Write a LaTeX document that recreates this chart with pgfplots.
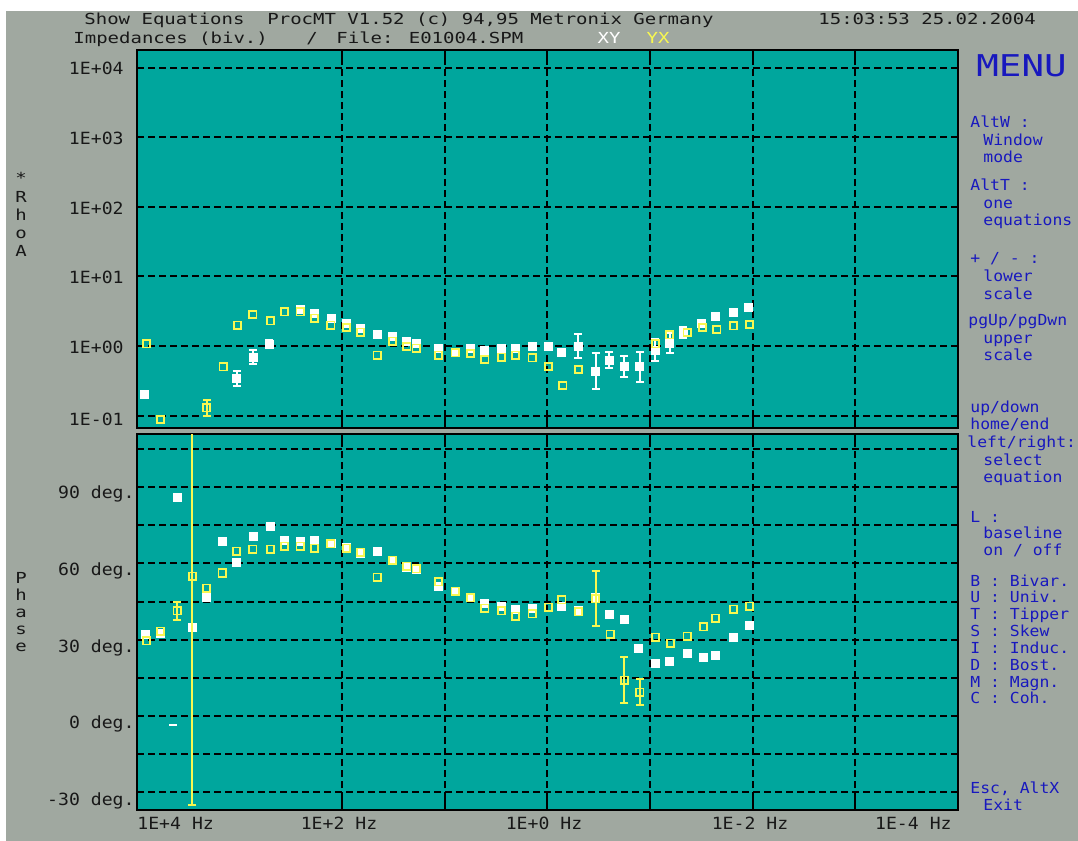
\documentclass[border=0pt]{standalone}
\usepackage{pgfplots}
\usepackage{pgfplotstable}
\pgfplotsset{compat=1.18}
\usepackage{fontspec}
\newfontfamily\hdr[FakeStretch=1.25]{DejaVu Sans Mono}
\newfontfamily\mnu[FakeStretch=1.08]{DejaVu Sans Mono}
\newfontfamily\axf[FakeStretch=1.08]{DejaVu Sans Mono}
\newfontfamily\bigf[FakeStretch=1.25]{DejaVu Sans Mono}
\definecolor{scrgray}{RGB}{160,168,160}
\definecolor{scrteal}{RGB}{0,166,157}
\definecolor{scryel}{RGB}{248,248,80}
\definecolor{scrblue}{RGB}{24,24,190}
\definecolor{scrtxt}{RGB}{24,24,24}

% log10(f)  log10(rho)   -- XY (white)
\pgfplotstableread{
f v
3.93 -0.69
3.20 -1.22
3.03 -0.47
2.87 -0.16
2.71 0.03
2.41 0.53
2.27 0.47
2.11 0.40
1.96 0.33
1.82 0.26
1.66 0.16
1.51 0.14
1.37 0.07
1.28 0.04
1.06 -0.04
0.90 -0.09
0.75 -0.04
0.61 -0.07
0.45 -0.04
0.31 -0.03
0.15 0.00
-0.01 0.00
-0.14 -0.09
-0.30 0.00
-0.47 -0.36
-0.60 -0.20
-0.75 -0.29
-0.90 -0.30
-1.05 -0.06
-1.19 0.04
-1.32 0.20
-1.50 0.33
-1.64 0.43
-1.81 0.49
-1.96 0.56
}\rhoxy
\pgfplotstableread{
f v e
3.03 -0.47 0.11
2.87 -0.16 0.10
2.71 0.03 0.06
-0.30 0.00 0.17
-0.47 -0.36 0.26
-0.60 -0.20 0.11
-0.75 -0.29 0.15
-0.90 -0.30 0.21
-1.05 -0.06 0.16
-1.19 0.04 0.14
-1.32 0.20 0.08
}\rhoxyerr
% YX (yellow)
\pgfplotstableread{
f v
3.91 0.03
3.77 -1.06
3.32 -0.89
3.16 -0.30
3.02 0.30
2.87 0.45
2.70 0.36
2.56 0.49
2.41 0.49
2.27 0.40
2.11 0.30
1.96 0.27
1.82 0.20
1.66 -0.13
1.51 0.07
1.37 -0.01
1.28 -0.03
1.06 -0.13
0.90 -0.10
0.75 -0.11
0.61 -0.19
0.45 -0.16
0.31 -0.13
0.15 -0.17
-0.01 -0.29
-0.15 -0.57
-0.30 -0.34
-0.47 -1.19
-1.05 0.03
-1.19 0.16
-1.36 0.19
-1.51 0.27
-1.65 0.24
-1.81 0.29
-1.97 0.31
}\rhoyx
\pgfplotstableread{
f v e
3.32 -0.89 0.12
}\rhoyxerr
% phase XY (white)
\pgfplotstableread{
f v
3.92 32.2
3.77 32.6
3.61 86.0
3.46 35.0
3.32 46.8
3.17 68.8
3.03 60.5
2.87 70.7
2.70 74.7
2.56 69.2
2.41 68.8
2.27 69.2
2.11 68.0
1.96 66.4
1.82 64.0
1.66 64.8
1.51 61.3
1.37 58.5
1.28 57.8
1.06 51.1
0.90 49.1
0.75 46.8
0.61 44.4
0.45 43.2
0.31 42.0
0.15 42.4
-0.14 43.2
-0.30 41.7
-0.47 46.8
-0.60 40.1
-0.75 38.1
-0.89 26.7
-1.05 20.8
-1.19 21.6
-1.36 24.8
-1.52 23.2
-1.64 24.0
-1.81 31.0
-1.97 35.8
}\phixy
% phase YX (yellow)
\pgfplotstableread{
f v
3.91 29.5
3.77 33.4
3.61 41.3
3.46 55.0
3.32 50.3
3.17 56.2
3.03 64.8
2.87 65.6
2.70 65.6
2.56 66.8
2.41 66.8
2.27 66.0
2.11 67.6
1.96 66.0
1.82 64.4
1.66 54.6
1.51 61.3
1.37 58.9
1.28 57.8
1.06 52.7
0.90 49.1
0.75 46.4
0.61 42.4
0.45 41.3
0.31 39.3
0.15 40.1
-0.01 42.8
-0.14 45.6
-0.30 40.9
-0.47 46.0
-0.61 32.2
-0.75 14.1
-0.90 9.4
-1.05 31.0
-1.20 28.7
-1.36 31.4
-1.52 35.0
-1.64 38.5
-1.81 42.0
-1.97 43.2
}\phiyx
\pgfplotstableread{
f v e
3.61 41.3 3.7
3.46 55.0 90
-0.47 46.0 10.8
-0.75 14.1 9
-0.90 9.4 5
}\phiyxerr

\tikzset{
  hd/.style={font={\hdr\fontsize{7.6pt}{9pt}\selectfont}, text=scrtxt, inner sep=0pt},
  mn/.style={font={\mnu\fontsize{7.6pt}{9pt}\selectfont}, text=scrblue, inner sep=0pt, anchor=base west},
  ax/.style={font={\axf\fontsize{8.4pt}{10pt}\selectfont}, text=scrtxt, inner sep=0pt},
}
\pgfplotsset{
  scr/.style={
    scale only axis, width=410.5pt, anchor=north west,
    xmin=-4, xmax=4, x dir=reverse,
    xtick={-3,-2,-1,0,1,2}, xticklabels={}, yticklabels={},
    grid=major,
    major grid style={black, line width=1pt, dash pattern=on 3.6pt off 1.9pt},
    axis background/.style={fill=scrteal},
    axis line style={black, line width=1pt},
    tick align=inside, tick pos=both,
    xtick style={black, line width=1pt, solid},
    ytick style={draw=none},
    major tick length=5.5pt,
    clip marker paths=true,
  },
  wmk/.style={only marks, mark=square*, mark size=2pt, white, mark options={white, fill=white}},
  ymk/.style={only marks, mark=square, mark size=1.8pt, scryel, mark options={scryel, line width=0.9pt}},
  werr/.style={error bars/.cd, y dir=both, y explicit,
    error bar style={white, line width=1pt},
    error mark options={rotate=90, white, mark size=2pt, line width=1pt}},
  yerr/.style={error bars/.cd, y dir=both, y explicit,
    error bar style={scryel, line width=1pt},
    error mark options={rotate=90, scryel, mark size=2pt, line width=1pt}},
}

\begin{document}
\begin{tikzpicture}[x=0.5pt,y=-0.5pt]
\useasboundingbox (0,0) rectangle (1078,841);
\fill[white] (0,0) rectangle (1078,841);
\fill[scrgray] (6,11) rectangle (1078,841);

% upper panel: apparent resistivity
\begin{axis}[scr, at={(68.5pt,-25pt)}, height=189pt,
  ymin=-1.178, ymax=4.253, ytick={-1,0,1,2,3,4}]
\addplot[wmk] table[x=f,y=v] {\rhoxy};
\addplot[wmk, werr] table[x=f,y=v,y error=e] {\rhoxyerr};
\addplot[ymk] table[x=f,y=v] {\rhoyx};
\addplot[ymk, yerr] table[x=f,y=v,y error=e] {\rhoyxerr};
\end{axis}

% lower panel: phase
\begin{axis}[scr, at={(68.5pt,-217pt)}, height=188pt,
  ymin=-36.9, ymax=110.8, ytick={-30,-15,...,105}]
\addplot[wmk] table[x=f,y=v] {\phixy};
\addplot[only marks, mark=-, mark size=1.8pt, white, mark options={white, line width=1pt}] coordinates {(3.65,-3.5)};
\addplot[ymk] table[x=f,y=v] {\phiyx};
\addplot[ymk, yerr] table[x=f,y=v,y error=e] {\phiyxerr};
\end{axis}

% header
\node[hd, anchor=base west] at (84,24.5) {Show Equations~ ProcMT V1.52 (c) 94,95 Metronix Germany};
\node[hd, anchor=base west] at (818,24.5) {15:03:53 25.02.2004};
\node[hd, anchor=base west] at (73,43.5) {Impedances (biv.)};
\node[hd, anchor=base] at (312,43.5) {/};
\node[hd, anchor=base west] at (336,43.5) {File: E01004.SPM};
\node[hd, anchor=base, text=white] at (609,43.5) {XY};
\node[hd, anchor=base, text=scryel] at (658,43.5) {YX};

% vertical axis names
\node[hd, anchor=base] at (21,183) {*};
\node[hd, anchor=base] at (21,202) {R};
\node[hd, anchor=base] at (21,220.5) {h};
\node[hd, anchor=base] at (21,238.5) {o};
\node[hd, anchor=base] at (21,256) {A};
\node[hd, anchor=base] at (21,583.5) {P};
\node[hd, anchor=base] at (21,600.5) {h};
\node[hd, anchor=base] at (21,617.5) {a};
\node[hd, anchor=base] at (21,634.5) {s};
\node[hd, anchor=base] at (21,651.5) {e};

% upper tick labels
\node[ax, anchor=base east] at (124,74.5) {1E+04};
\node[ax, anchor=base east] at (124,144.5) {1E+03};
\node[ax, anchor=base east] at (124,214) {1E+02};
\node[ax, anchor=base east] at (124,283.5) {1E+01};
\node[ax, anchor=base east] at (124,353) {1E+00};
\node[ax, anchor=base east] at (124,425) {1E-01};
% lower tick labels
\node[ax, anchor=base east] at (135,498.5) {90 deg.};
\node[ax, anchor=base east] at (135,575.5) {60 deg.};
\node[ax, anchor=base east] at (135,652) {30 deg.};
\node[ax, anchor=base east] at (135,728.5) {0 deg.};
\node[ax, anchor=base east] at (135,805.5) {-30 deg.};
% frequency labels
\node[ax, anchor=base west] at (137,829) {1E+4 Hz};
\node[ax, anchor=base] at (339,829) {1E+2 Hz};
\node[ax, anchor=base] at (544,829) {1E+0 Hz};
\node[ax, anchor=base] at (750,829) {1E-2 Hz};
\node[ax, anchor=base east] at (952,829) {1E-4 Hz};

% menu
\node[font={\bigf\fontsize{15pt}{17pt}\selectfont}, text=scrblue, inner sep=0pt, anchor=base west] at (976,76) {MENU};
\node[mn] at (970,127.5) {AltW :};
\node[mn] at (983,145.5) {Window};
\node[mn] at (983,162.5) {mode};
\node[mn] at (970,190.5) {AltT :};
\node[mn] at (983,208.5) {one};
\node[mn] at (983,225.5) {equations};
\node[mn] at (970,263.5) {+ / - :};
\node[mn] at (983,281.5) {lower};
\node[mn] at (983,299.5) {scale};
\node[mn] at (968,325.5) {pgUp/pgDwn};
\node[mn] at (983,343.5) {upper};
\node[mn] at (983,360.5) {scale};
\node[mn] at (970,412.5) {up/down};
\node[mn] at (970,429) {home/end};
\node[mn] at (967,447.5) {left/right:};
\node[mn] at (983,465.5) {select};
\node[mn] at (983,482.5) {equation};
\node[mn] at (970,522.5) {L :};
\node[mn] at (983,538.5) {baseline};
\node[mn] at (983,555.5) {on / off};
\node[mn] at (970,586.5) {B : Bivar.};
\node[mn] at (970,602.5) {U : Univ.};
\node[mn] at (970,619.5) {T : Tipper};
\node[mn] at (970,636.5) {S : Skew};
\node[mn] at (970,653.5) {I : Induc.};
\node[mn] at (970,670.5) {D : Bost.};
\node[mn] at (970,687.5) {M : Magn.};
\node[mn] at (970,703.5) {C : Coh.};
\node[mn] at (970,793.5) {Esc, AltX};
\node[mn] at (983,810.5) {Exit};
\end{tikzpicture}
\end{document}
